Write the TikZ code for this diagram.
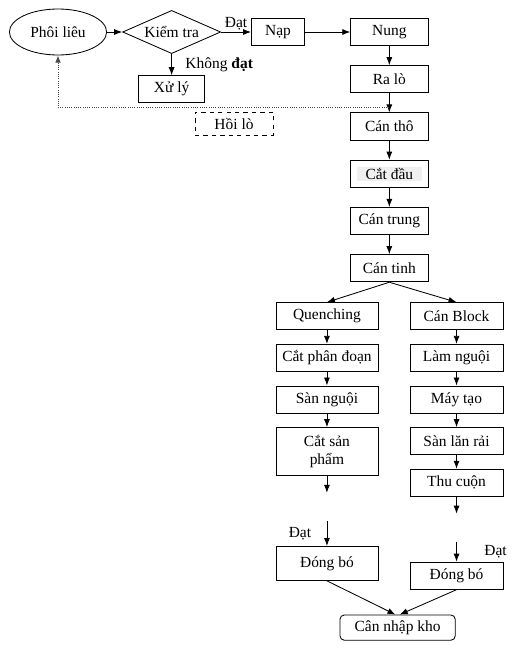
\documentclass[tikz,border=0pt]{standalone}
\usepackage{fontspec}
\setmainfont{Liberation Serif}
\usepackage{tikz}
\usetikzlibrary{arrows.meta,positioning,shapes.geometric,calc}
\tikzset{
    bloco/.style={
        rectangle,
        draw,
        line width=0.6pt,
        align=center,
        minimum height=0.68cm,
        inner sep=2pt
    },
    principal/.style={bloco, minimum width=1.93cm},
    ramoA/.style={bloco, minimum width=2.55cm},
    ramoB/.style={bloco, minimum width=2.33cm},
    inicio/.style={
        ellipse,
        draw,
        line width=0.6pt,
        minimum width=2.43cm,
        minimum height=1.15cm,
        inner sep=0pt
    },
    decisao/.style={
        diamond,
        draw,
        line width=0.6pt,
        aspect=2.3,
        minimum width=2.45cm,
        minimum height=1.08cm,
        inner sep=0pt
    },
    auxiliar/.style={bloco, dashed, minimum width=1.95cm, minimum height=0.58cm},
    armazem/.style={bloco, rounded corners=3pt, minimum width=2.88cm, minimum height=0.63cm},
    fluxo/.style={-{Latex[length=2mm, width=1.5mm]}, line width=0.6pt},
    retorno/.style={-{Latex[length=1.8mm, width=1.4mm]}, densely dotted, gray!55!black, line width=0.6pt},
    rotulo/.style={inner sep=1pt}
}

\begin{document}
\begin{tikzpicture}[node distance=0.34cm and 0.75cm, font=\fontsize{11}{13}\selectfont]
        \useasboundingbox (0,0) rectangle (12.9,-16.425);

        \node[inicio] (phoilieu) at (1.45,-0.8) {Phôi liêu};
        \node[decisao, right=0.38cm of phoilieu] (kiemtra) {Kiểm tra};
        \node[bloco, minimum width=1.33cm, right=0.75cm of kiemtra] (nap) {Nạp};
        \node[principal, right=1.13cm of nap] (nung) {Nung};
        \node[bloco, minimum width=1.65cm, below=0.53cm of kiemtra] (xuly) {Xử lý};
        \node[auxiliar] (hoilo) at (5.85,-3.09) {Hồi lò};

        \node[principal, below=0.48cm of nung] (ralo) {Ra lò};
        \node[principal, below=0.48cm of ralo] (cantho) {Cán thô};
        \node[principal, below=0.48cm of cantho] (catdau)
            {{\fboxsep=1pt\colorbox{gray!12}{\hspace{5pt}Cắt đầu\hspace{5pt}}}};
        \node[principal, below=0.48cm of catdau] (cantrung) {Cán trung};
        \node[principal, below=0.48cm of cantrung] (cantinh) {Cán tinh};

        \node[ramoA, below=0.5cm of cantinh, xshift=-1.56cm] (quenching) {Quenching};
        \node[ramoA, below=of quenching] (catphandoan) {Cắt phân đoạn};
        \node[ramoA, below=of catphandoan] (sannguoi) {Sàn nguội};
        \node[ramoA, below=of sannguoi, minimum height=1.2cm] (catsanpham) {Cắt sản\\phẩm};

        \node[ramoB, below=0.5cm of cantinh, xshift=1.68cm] (canblock) {Cán Block};
        \node[ramoB, below=of canblock] (lamnguoi) {Làm nguội};
        \node[ramoB, below=of lamnguoi] (maytao) {Máy tạo};
        \node[ramoB, below=of maytao] (sanlanrai) {Sàn lăn rải};
        \node[ramoB, below=of sanlanrai] (thucuon) {Thu cuộn};

        \coordinate[below=0.42cm of catsanpham] (saida1);
        \coordinate[below=0.42cm of thucuon] (saida2);

        \node[ramoA, below=1.75cm of catsanpham, minimum height=0.85cm] (dongbo1) {Đóng bó};
        \node[ramoB, below=1.62cm of thucuon] (dongbo2) {Đóng bó};
        \coordinate[above=0.62cm of dongbo1] (entrada1);
        \coordinate[above=0.5cm of dongbo2] (entrada2);
        \node[armazem] (cannhapkho) at (9.94,-15.69) {Cân nhập kho};

        \draw[fluxo] (phoilieu) -- (kiemtra);
        \draw[fluxo] (kiemtra) -- node[rotulo, above] {Đạt} (nap);
        \draw[fluxo] (kiemtra) -- node[rotulo, right=0.3cm] {Không \textbf{đạt}} (xuly);
        \draw[fluxo] (nap) -- (nung);
        \draw[fluxo] (nung) -- (ralo);
        \draw[fluxo] (ralo) -- (cantho);
        \draw[fluxo] (cantho) -- (catdau);
        \draw[fluxo] (catdau) -- (cantrung);
        \draw[fluxo] (cantrung) -- (cantinh);

        \coordinate (hoi) at ($(ralo.south)!0.75!(cantho.north)$);
        \draw[retorno] (hoi) -| (phoilieu);

        \draw[fluxo] (cantinh.south) -- (quenching.north);
        \draw[fluxo] (cantinh.south) -- (canblock.north);
        \draw[fluxo] (quenching) -- (catphandoan);
        \draw[fluxo] (catphandoan) -- (sannguoi);
        \draw[fluxo] (sannguoi) -- (catsanpham);
        \draw[fluxo] (catsanpham) -- (saida1);
        \draw[fluxo] (canblock) -- (lamnguoi);
        \draw[fluxo] (lamnguoi) -- (maytao);
        \draw[fluxo] (maytao) -- (sanlanrai);
        \draw[fluxo] (sanlanrai) -- (thucuon);
        \draw[fluxo] (thucuon) -- (saida2);

        \draw[fluxo] (entrada1) -- node[rotulo, left=0.35cm] {Đạt} (dongbo1);
        \draw[fluxo] (entrada2) -- node[rotulo, right=0.65cm] {Đạt} (dongbo2);
        \draw[fluxo] (dongbo1.south) -- ([xshift=-1.5pt]cannhapkho.north);
        \draw[fluxo] (dongbo2.south) -- ([xshift=1.5pt]cannhapkho.north);
    \end{tikzpicture}
\end{document}
